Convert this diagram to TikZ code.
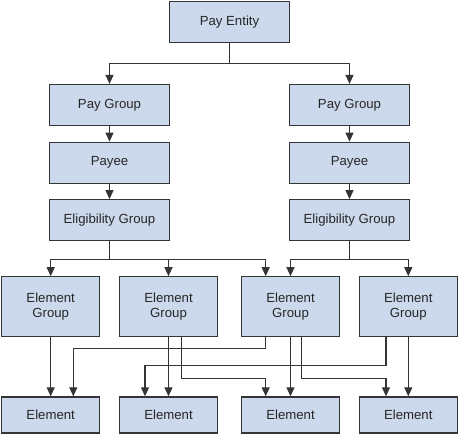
\documentclass[tikz,border=0pt]{standalone}
\usepackage{fontspec}
\setmainfont{Liberation Sans}
\usepackage{xcolor}
\usetikzlibrary{arrows.meta, positioning}

\definecolor{boxfill}{RGB}{204,217,236}
\definecolor{boxline}{RGB}{52,52,52}

\begin{document}
\begin{tikzpicture}[x=1pt, y=-1pt,
    box/.style={draw=boxline, line width=1.2pt, fill=boxfill, inner sep=0pt,
        text=black!85, align=center, font=\fontsize{13.2}{15}\selectfont},
    wide/.style={box, minimum width=120pt, minimum height=41pt},
    grp/.style={box, minimum width=98pt, minimum height=60pt},
    leaf/.style={box, minimum width=98pt, minimum height=36pt},
    arr/.style={draw=boxline, line width=1.1pt, -{Triangle[length=9pt, width=8pt]}}]
    \useasboundingbox (0,0) rectangle (459,434);

    \node[wide] (pe) at (229.5, 21.7) {Pay Entity};
    \node[wide] (pg1) at (109.5, 105) {Pay Group};
    \node[wide] (pg2) at (349.5, 105) {Pay Group};
    \node[wide] (py1) at (109.5, 162.7) {Payee};
    \node[wide] (py2) at (349.5, 162.7) {Payee};
    \node[wide] (el1) at (109.5, 220.2) {Eligibility Group};
    \node[wide] (el2) at (349.5, 220.2) {Eligibility Group};

    \node[grp] (eg1) at (50.7, 306.8) {Element\\Group};
    \node[grp] (eg2) at (168.5, 306.8) {Element\\Group};
    \node[grp] (eg3) at (290.5, 306.8) {Element\\Group};
    \node[grp] (eg4) at (408.3, 306.8) {Element\\Group};

    \node[leaf] (e1) at (50.7, 414.9) {Element};
    \node[leaf] (e2) at (168.5, 414.9) {Element};
    \node[leaf] (e3) at (290.5, 414.9) {Element};
    \node[leaf] (e4) at (408.3, 414.9) {Element};

    \draw[arr] (pe.south) -- ++(0,21) -| (pg1.north);
    \draw[arr] (pe.south) -- ++(0,21) -| (pg2.north);
    \draw
    (pg1) edge[arr] (py1)
    (pg2) edge[arr] (py2)
    (py1) edge[arr] (el1)
    (py2) edge[arr] (el2);

    \draw[arr] (el1.south) -- ++(0,18.3) -| (eg1.north);
    \draw[arr] (el1.south) -- ++(0,18.3) -| (eg2.north);
    \draw[arr] (el1.south) -- ++(0,18.3) -| ([xshift=-24.8pt]eg3.north);
    \draw[arr] (el2.south) -- ++(0,18.3) -| (eg3.north);
    \draw[arr] (el2.south) -- ++(0,18.3) -| (eg4.north);

    \draw
    (eg1) edge[arr] (e1)
    (eg2) edge[arr] (e2)
    (eg3) edge[arr] (e3)
    (eg4) edge[arr] (e4);
    \draw[arr] ([xshift=-24.8pt]eg3.south) -- ++(0,11.3) -| ([xshift=22.6pt]e1.north);
    \draw[arr] ([xshift=-22.3pt]eg4.south) -- ++(0,28) -| ([xshift=-23.5pt]e2.north);
    \draw[arr] ([xshift=13.2pt]eg2.south) -- ++(0,41.3) -| ([xshift=-24.8pt]e3.north);
    \draw[arr] ([xshift=11.2pt]eg3.south) -- ++(0,41.3) -| ([xshift=-22.3pt]e4.north);
\end{tikzpicture}
\end{document}
